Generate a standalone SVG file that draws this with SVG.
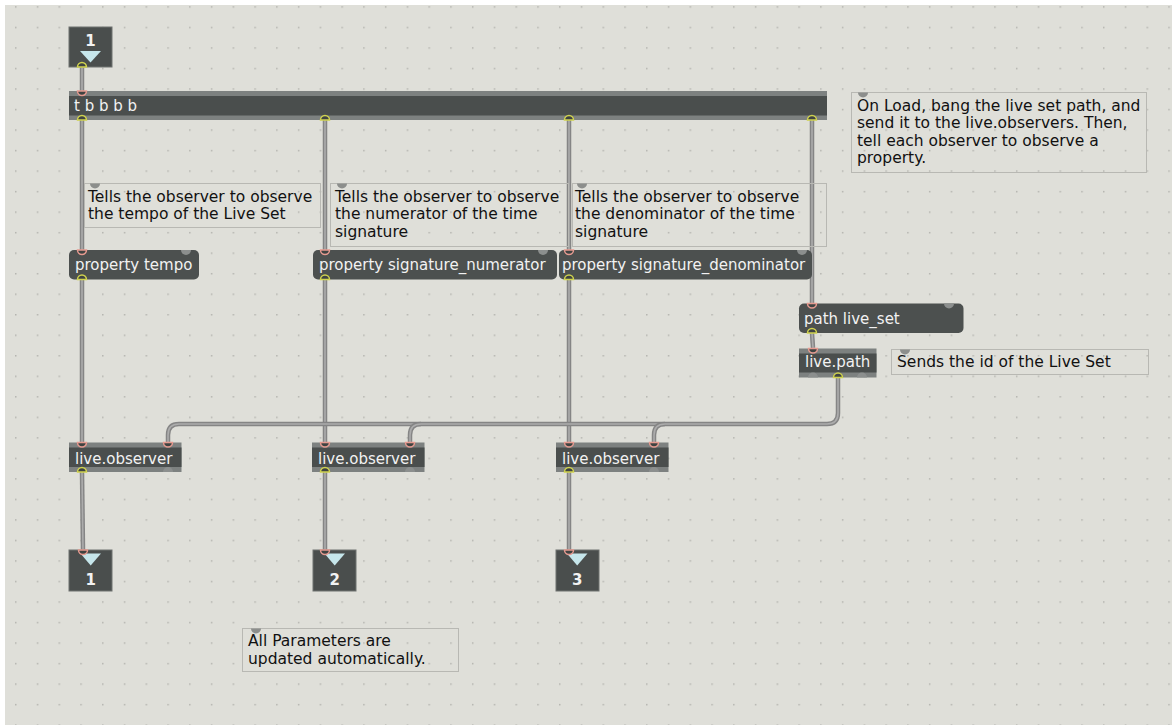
<svg xmlns="http://www.w3.org/2000/svg" xmlns:xlink="http://www.w3.org/1999/xlink" width="1172" height="725" viewBox="0 0 1172 725">
<style>
.obj{fill:#4a4e4d}
.strip{fill:#7d8180}
.msg{fill:#4c504f}
.io{fill:#4a4e4d;stroke:#6f7271;stroke-width:1}
.tri{fill:#c6e6eb}
.otxt{font-family:"DejaVu Sans",sans-serif;font-size:15px;fill:#f2f2f2}
.num{font-family:"DejaVu Sans",sans-serif;font-size:15px;font-weight:bold;fill:#f2f2f2;text-anchor:middle}
.cbox{fill:none;stroke:#b8b8b3;stroke-width:1}
.ctxt{font-family:"DejaVu Sans",sans-serif;font-size:15.5px;fill:#111}
.knob{fill:#8c8e8c}
.pin{fill:#3f4342;stroke:#e59a90;stroke-width:1.5}
.pout{fill:#3f4342;stroke:#cfd24e;stroke-width:1.5}
.pgrey{fill:#8c8f8e}
.co{fill:none;stroke:#858585;stroke-width:4.5;stroke-linecap:butt}
.ci{fill:none;stroke:#acacac;stroke-width:1.6}
</style>
<defs>
<pattern id="grid" patternUnits="userSpaceOnUse" x="15" y="6.2" width="21.76" height="20.52">
<rect x="0" y="0" width="1.5" height="1.5" fill="#b4b4af"/>
</pattern>
<path id="k1" d="M82,67 L82,91"/>
<path id="k2" d="M82,120 L82,250"/>
<path id="k3" d="M325,120 L325,250"/>
<path id="k4" d="M569,120 L569,250"/>
<path id="k5" d="M812,120 L812,303"/>
<path id="k6" d="M82,279 L82,442"/>
<path id="k7" d="M325,279 L325,442"/>
<path id="k8" d="M569,279 L569,442"/>
<path id="k9" d="M812,333 L813,348"/>
<path id="k10" d="M838,377 L838,413 Q838,424 827,424 L179,424 Q168,424 168,435 L168,442"/>
<path id="k11" d="M421,424 Q410,424 410,435 L410,442"/>
<path id="k12" d="M665,424 Q654,424 654,435 L654,442"/>
<path id="k13" d="M82,472 L83,550"/>
<path id="k14" d="M325,472 L325,550"/>
<path id="k15" d="M569,472 L569,550"/>
</defs>
<rect width="1172" height="725" fill="#ffffff"/>
<rect x="5" y="5" width="1167" height="720" fill="#dfdfd9"/>
<rect x="5" y="5" width="1167" height="720" fill="url(#grid)"/>

<g id="connectors">
<use xlink:href="#k1" class="co"/><use xlink:href="#k1" class="ci"/>
<use xlink:href="#k2" class="co"/><use xlink:href="#k2" class="ci"/>
<use xlink:href="#k3" class="co"/><use xlink:href="#k3" class="ci"/>
<use xlink:href="#k4" class="co"/><use xlink:href="#k4" class="ci"/>
<use xlink:href="#k5" class="co"/><use xlink:href="#k5" class="ci"/>
<use xlink:href="#k6" class="co"/><use xlink:href="#k6" class="ci"/>
<use xlink:href="#k7" class="co"/><use xlink:href="#k7" class="ci"/>
<use xlink:href="#k8" class="co"/><use xlink:href="#k8" class="ci"/>
<use xlink:href="#k9" class="co"/><use xlink:href="#k9" class="ci"/>
<use xlink:href="#k10" class="co"/><use xlink:href="#k10" class="ci"/>
<use xlink:href="#k11" class="co"/><use xlink:href="#k11" class="ci"/>
<use xlink:href="#k12" class="co"/><use xlink:href="#k12" class="ci"/>
<use xlink:href="#k13" class="co"/><use xlink:href="#k13" class="ci"/>
<use xlink:href="#k14" class="co"/><use xlink:href="#k14" class="ci"/>
<use xlink:href="#k15" class="co"/><use xlink:href="#k15" class="ci"/>
</g>

<g id="inlet1">
<rect class="io" x="69" y="27" width="43" height="40"/>
<text class="num" x="90.5" y="46">1</text>
<polygon class="tri" points="80,51 101,51 90.5,62.5"/>
<path class="pout" d="M77.5,67 A4.5,4.5 0 0 1 86.5,67 Z"/>
</g>

<g id="trigger">
<rect class="strip" x="69" y="91" width="758" height="29"/>
<rect class="obj" x="69" y="96" width="758" height="19.5"/>
<text class="otxt" x="74" y="111">t b b b b</text>
<path class="pin" d="M77.5,91 A4.5,4.5 0 0 0 86.5,91 Z"/>
<path class="pout" d="M77.5,120 A4.5,4.5 0 0 1 86.5,120 Z"/>
<path class="pout" d="M320.5,120 A4.5,4.5 0 0 1 329.5,120 Z"/>
<path class="pout" d="M564.5,120 A4.5,4.5 0 0 1 573.5,120 Z"/>
<path class="pout" d="M807.5,120 A4.5,4.5 0 0 1 816.5,120 Z"/>
</g>

<g id="comment-load">
<rect class="cbox" x="851.5" y="92.5" width="295" height="80"/>
<path class="knob" d="M858,92.5 A5,5 0 0 0 868,92.5 Z"/>
<text class="ctxt" x="857" y="110.5">On Load, bang the live set path, and</text>
<text class="ctxt" x="857" y="128">send it to the live.observers. Then,</text>
<text class="ctxt" x="857" y="145.5">tell each observer to observe a</text>
<text class="ctxt" x="857" y="163">property.</text>
</g>

<g id="comment-tempo">
<rect class="cbox" x="84.5" y="183.5" width="236" height="44"/>
<path class="knob" d="M90,183.5 A5,5 0 0 0 100,183.5 Z"/>
<text class="ctxt" x="88" y="201.5">Tells the observer to observe</text>
<text class="ctxt" x="88" y="219">the tempo of the Live Set</text>
</g>

<g id="comment-numerator">
<rect class="cbox" x="330.5" y="183.5" width="238" height="63"/>
<path class="knob" d="M337,183.5 A5,5 0 0 0 347,183.5 Z"/>
<text class="ctxt" x="335" y="201.5">Tells the observer to observe</text>
<text class="ctxt" x="335" y="219">the numerator of the time</text>
<text class="ctxt" x="335" y="236.5">signature</text>
</g>

<g id="comment-denominator">
<rect class="cbox" x="572.5" y="183.5" width="254" height="63"/>
<path class="knob" d="M577,183.5 A5,5 0 0 0 587,183.5 Z"/>
<text class="ctxt" x="575" y="201.5">Tells the observer to observe</text>
<text class="ctxt" x="575" y="219">the denominator of the time</text>
<text class="ctxt" x="575" y="236.5">signature</text>
</g>

<g id="msg-tempo">
<rect class="msg" x="69" y="250" width="130" height="29.5" rx="5"/>
<text class="otxt" x="75" y="270">property tempo</text>
<path class="pin" d="M77.5,250 A4.5,4.5 0 0 0 86.5,250 Z"/>
<path class="pgrey" d="M181,250 A5,5 0 0 0 191,250 Z"/>
<path class="pout" d="M77.5,279.5 A4.5,4.5 0 0 1 86.5,279.5 Z"/>
</g>

<g id="msg-numerator">
<rect class="msg" x="313" y="250" width="244" height="29.5" rx="5"/>
<text class="otxt" x="319" y="270">property signature_numerator</text>
<path class="pin" d="M320.5,250 A4.5,4.5 0 0 0 329.5,250 Z"/>
<path class="pgrey" d="M538,250 A5,5 0 0 0 548,250 Z"/>
<path class="pout" d="M320.5,279.5 A4.5,4.5 0 0 1 329.5,279.5 Z"/>
</g>

<g id="msg-denominator">
<rect class="msg" x="559" y="250" width="253" height="29.5" rx="5"/>
<text class="otxt" x="562" y="270">property signature_denominator</text>
<path class="pin" d="M564.5,250 A4.5,4.5 0 0 0 573.5,250 Z"/>
<path class="pgrey" d="M797,250 A5,5 0 0 0 807,250 Z"/>
<path class="pout" d="M564.5,279.5 A4.5,4.5 0 0 1 573.5,279.5 Z"/>
</g>

<g id="msg-path">
<rect class="msg" x="799" y="303.5" width="164.5" height="29.5" rx="5"/>
<text class="otxt" x="804" y="323.5">path live_set</text>
<path class="pin" d="M807.5,303.5 A4.5,4.5 0 0 0 816.5,303.5 Z"/>
<path class="pgrey" d="M944,303.5 A5,5 0 0 0 954,303.5 Z"/>
<path class="pout" d="M807.5,333 A4.5,4.5 0 0 1 816.5,333 Z"/>
</g>

<g id="livepath">
<rect class="strip" x="799" y="348.5" width="77.5" height="29"/>
<rect class="obj" x="799" y="353.5" width="77.5" height="19"/>
<text class="otxt" x="805" y="367">live.path</text>
<path class="pin" d="M808.5,348.5 A4.5,4.5 0 0 0 817.5,348.5 Z"/>
<path class="pgrey" d="M808,377.5 A5,5 0 0 1 818,377.5 Z"/>
<path class="pout" d="M833.5,377.5 A4.5,4.5 0 0 1 842.5,377.5 Z"/>
<path class="pgrey" d="M857,377.5 A5,5 0 0 1 867,377.5 Z"/>
</g>

<g id="comment-id">
<rect class="cbox" x="891.5" y="349.5" width="257" height="25"/>
<path class="knob" d="M900,349.5 A5,5 0 0 0 910,349.5 Z"/>
<text class="ctxt" x="897" y="366.5">Sends the id of the Live Set</text>
</g>

<g id="observer1">
<rect class="strip" x="69" y="442.5" width="112.5" height="29.5"/>
<rect class="obj" x="69" y="447.5" width="112.5" height="19.5"/>
<text class="otxt" x="75" y="463.5">live.observer</text>
<path class="pin" d="M77.5,442.5 A4.5,4.5 0 0 0 86.5,442.5 Z"/>
<path class="pin" d="M163.5,442.5 A4.5,4.5 0 0 0 172.5,442.5 Z"/>
<path class="pout" d="M77.5,472 A4.5,4.5 0 0 1 86.5,472 Z"/>
<path class="pgrey" d="M163,472 A5,5 0 0 1 173,472 Z"/>
</g>

<g id="observer2">
<rect class="strip" x="312" y="442.5" width="112.5" height="29.5"/>
<rect class="obj" x="312" y="447.5" width="112.5" height="19.5"/>
<text class="otxt" x="318" y="463.5">live.observer</text>
<path class="pin" d="M320.5,442.5 A4.5,4.5 0 0 0 329.5,442.5 Z"/>
<path class="pin" d="M405.5,442.5 A4.5,4.5 0 0 0 414.5,442.5 Z"/>
<path class="pout" d="M320.5,472 A4.5,4.5 0 0 1 329.5,472 Z"/>
<path class="pgrey" d="M405,472 A5,5 0 0 1 415,472 Z"/>
</g>

<g id="observer3">
<rect class="strip" x="556" y="442.5" width="112.5" height="29.5"/>
<rect class="obj" x="556" y="447.5" width="112.5" height="19.5"/>
<text class="otxt" x="562" y="463.5">live.observer</text>
<path class="pin" d="M564.5,442.5 A4.5,4.5 0 0 0 573.5,442.5 Z"/>
<path class="pin" d="M649.5,442.5 A4.5,4.5 0 0 0 658.5,442.5 Z"/>
<path class="pout" d="M564.5,472 A4.5,4.5 0 0 1 573.5,472 Z"/>
<path class="pgrey" d="M649,472 A5,5 0 0 1 659,472 Z"/>
</g>

<g id="outlet1">
<rect class="io" x="69" y="550" width="43" height="41"/>
<polygon class="tri" points="80.5,553.5 101,553.5 90.7,565.5"/>
<text class="num" x="90.7" y="585">1</text>
<path class="pin" d="M78.5,550 A4.5,4.5 0 0 0 87.5,550 Z"/>
</g>

<g id="outlet2">
<rect class="io" x="313" y="550" width="43" height="41"/>
<polygon class="tri" points="324.5,553.5 345,553.5 334.7,565.5"/>
<text class="num" x="334.7" y="585">2</text>
<path class="pin" d="M320.5,550 A4.5,4.5 0 0 0 329.5,550 Z"/>
</g>

<g id="outlet3">
<rect class="io" x="556" y="550" width="43" height="41"/>
<polygon class="tri" points="567,553.5 587.5,553.5 577.2,565.5"/>
<text class="num" x="577.2" y="585">3</text>
<path class="pin" d="M564.5,550 A4.5,4.5 0 0 0 573.5,550 Z"/>
</g>

<g id="comment-params">
<rect class="cbox" x="242.5" y="628.5" width="216" height="43"/>
<path class="knob" d="M251,628.5 A5,5 0 0 0 261,628.5 Z"/>
<text class="ctxt" x="248" y="646">All Parameters are</text>
<text class="ctxt" x="248" y="663.5">updated automatically.</text>
</g>
</svg>
